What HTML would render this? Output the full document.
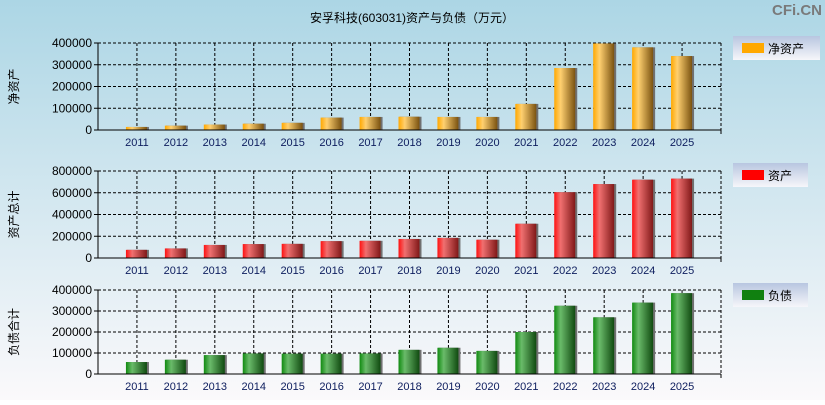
<!DOCTYPE html>
<html><head><meta charset="utf-8"><style>
body{margin:0;width:825px;height:400px;overflow:hidden;font-family:"Liberation Sans","Noto Sans CJK SC",sans-serif}
</style></head><body>
<svg id="c" width="825" height="400" xmlns="http://www.w3.org/2000/svg">
<defs>
<linearGradient id="bg" x1="0" y1="0" x2="0" y2="1"><stop offset="0" stop-color="#acd6e5"/><stop offset="1" stop-color="#fbf9fb"/></linearGradient>
<linearGradient id="lg" x1="0" y1="0" x2="0" y2="1"><stop offset="0" stop-color="#b8c6e0"/><stop offset="1" stop-color="#f6f6fa"/></linearGradient>
<linearGradient id="g0" x1="0" x2="1"><stop offset="0" stop-color="#ffa800"/><stop offset="0.3" stop-color="#ffd070"/><stop offset="1" stop-color="#7a5210"/></linearGradient>
<linearGradient id="g1" x1="0" x2="1"><stop offset="0" stop-color="#ff1010"/><stop offset="0.3" stop-color="#f07070"/><stop offset="1" stop-color="#801818"/></linearGradient>
<linearGradient id="g2" x1="0" x2="1"><stop offset="0" stop-color="#108a10"/><stop offset="0.3" stop-color="#6abb6a"/><stop offset="1" stop-color="#104a10"/></linearGradient>
</defs>
<rect width="825" height="400" fill="url(#bg)"/>
<text x="412" y="22" font-size="12" text-anchor="middle" fill="#000">安孚科技(603031)资产与负债（万元）</text>
<text x="822" y="15" font-size="15" font-weight="bold" text-anchor="end" fill="#7a7a7a">CFi.CN</text>
<g id="plots"></g>
</svg>
<script>
const years=["2011","2012","2013","2014","2015","2016","2017","2018","2019","2020","2021","2022","2023","2024","2025"];
const netAssets=[14000,20000,25000,29000,33000,57000,60000,61000,60000,60000,120000,285000,398000,380000,340000];
const totalAssets=[75000,88000,120000,128000,130000,155000,158000,175000,185000,168000,315000,605000,680000,720000,730000];
const totalLiab=[57000,68000,90000,98000,97000,97000,98000,115000,125000,110000,200000,325000,270000,340000,385000];
const ticks1=[0,100000,200000,300000,400000];
const ticks2=[0,200000,400000,600000,800000];
const ticks3=[0,100000,200000,300000,400000];
const NS="http://www.w3.org/2000/svg";
const G=document.getElementById('plots');
function mk(t,a,p){const e=document.createElementNS(NS,t);for(const k in a)e.setAttribute(k,a[k]);(p||G).appendChild(e);return e;}
const X0=98,X1=721,slot=(X1-X0)/16;
function xs(i){return X0+slot*(i+1);}
function panel(top,bot,max,ticks,vals,grad,ytitle,legName,legColor,legY,legW,key){
  const ys=v=>bot-(v/max)*(bot-top);
  const g=mk('g',{});
  
  
  ticks.forEach(t=>{const y=ys(t);
    if(t>0){const l=mk('line',{x1:X0,x2:X1,y1:y,y2:y,stroke:'#000','stroke-dasharray':'3,2'},g);
      }
    const tk=mk('line',{x1:X0-4,x2:X0,y1:y,y2:y,stroke:'#000'},g);
    
    const tx=mk('text',{x:X0-6,y:y+4,'font-size':12,'text-anchor':'end',fill:'#000'},g);tx.textContent=String(t);
    });
  years.forEach((yr,i)=>{const x=xs(i);
    const l=mk('line',{x1:x,x2:x,y1:top,y2:bot,stroke:'#000','stroke-dasharray':'3,2'},g);
    
    const tx=mk('text',{x:x,y:bot+16,'font-size':11,'text-anchor':'middle',fill:'#102060'},g);tx.textContent=yr;
    });
  const fr=mk('line',{x1:X1,x2:X1,y1:top,y2:bot,stroke:'#000','stroke-dasharray':'3,2'},g);
  
  const ft=mk('line',{x1:X0,x2:X1,y1:top,y2:top,stroke:'#000','stroke-dasharray':'3,2'},g);
  
  vals.forEach((v,i)=>{const x=xs(i),y=ys(v);
    const sh=mk('rect',{x:x-10,y:y,width:22,height:bot-y,fill:'#707070'},g);
    
    const b=mk('rect',{x:x-11,y:y,width:21,height:bot-y,fill:'url(#'+grad+')'},g);
    });
  const ax=mk('line',{x1:X0,x2:X0,y1:top,y2:bot,stroke:'#000'},g);
  
  const bx=mk('line',{x1:X0,x2:X1,y1:bot,y2:bot,stroke:'#000'},g);
  
  const ex=mk('line',{x1:X1,x2:X1,y1:bot,y2:bot+4,stroke:'#000'},g);
  
  const yt=mk('text',{x:0,y:0,'font-size':12,'text-anchor':'middle',fill:'#000',transform:'translate(18,'+((top+bot)/2)+') rotate(-90)'},g);
  yt.textContent=ytitle;
  const lg=mk('g',{},g);
  mk('rect',{x:733,y:legY,width:legW,height:24,fill:'url(#lg)'},lg);
  mk('rect',{x:742,y:legY+7,width:22,height:10,fill:legColor},lg);
  const lt=mk('text',{x:768,y:legY+17,'font-size':12,fill:'#000'},lg);lt.textContent=legName;
}
panel(43,130,400000,ticks1,netAssets,'g0','净资产','净资产','#ffa800',36,87,'net-assets');
panel(171,258,800000,ticks2,totalAssets,'g1','资产总计','资产','#ff0000',163,75,'assets');
panel(290,374,400000,ticks3,totalLiab,'g2','负债合计','负债','#108010',283,75,'liabilities');
</script>
</body></html>
